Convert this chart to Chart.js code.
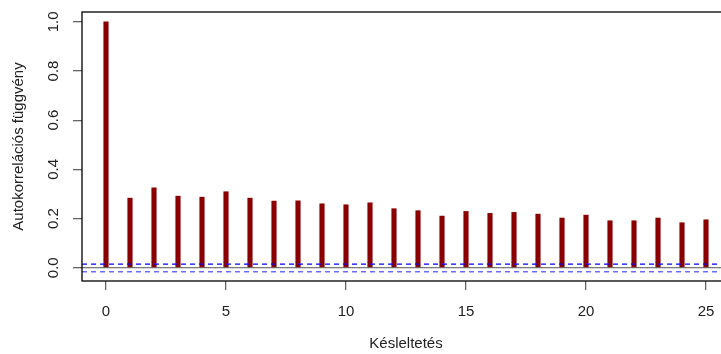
<!DOCTYPE html>
<html>
<head>
<meta charset="utf-8">
<script src="https://cdn.jsdelivr.net/npm/chart.js@4.4.0/dist/chart.umd.min.js"></script>
<style>
  html, body { margin: 0; padding: 0; background: #fff; overflow: hidden; }
  #wrap { width: 731px; height: 354px; position: relative; }
</style>
</head>
<body>
<div id="wrap"><canvas id="acfChart"></canvas></div>
<script>
// --- datos ---
const lags = [0, 1, 2, 3, 4, 5, 6, 7, 8, 9, 10, 11, 12, 13, 14, 15, 16, 17, 18, 19, 20, 21, 22, 23, 24, 25];
const acfValues = [1.0, 0.283, 0.325, 0.291, 0.287, 0.309, 0.283, 0.271, 0.272, 0.260, 0.256, 0.264, 0.240,
                   0.232, 0.210, 0.229, 0.221, 0.225, 0.218, 0.202, 0.214, 0.191, 0.191, 0.202, 0.183, 0.195];
const confUpper = 0.015;
const confLower = -0.016;
const xTickValues = [0, 5, 10, 15, 20, 25];
const yTickValues = [0.0, 0.2, 0.4, 0.6, 0.8, 1.0];
const xRange = [-1, 26];

const font = { family: "'Liberation Sans', Arial, sans-serif", size: 15 };
const textColor = '#222';

// marco del gráfico + etiquetas del eje y giradas (como en R)
const framePlugin = {
  id: 'frame',
  afterDraw(chart) {
    const { ctx, chartArea: a, scales } = chart;
    ctx.save();
    ctx.strokeStyle = '#000';
    ctx.lineWidth = 1.3;
    ctx.strokeRect(a.left, a.top, a.right - a.left, a.bottom - a.top);

    ctx.fillStyle = textColor;
    ctx.font = font.size + 'px ' + font.family;
    ctx.textAlign = 'center';
    ctx.textBaseline = 'middle';
    yTickValues.forEach(v => {
      const y = scales.y.getPixelForValue(v);
      ctx.save();
      ctx.translate(54, y);
      ctx.rotate(-Math.PI / 2);
      ctx.fillText(v.toFixed(1), 0, 0);
      ctx.restore();
    });
    ctx.restore();
  }
};

const lineSet = (y, color, dash, width) => ({
  type: 'line',
  data: [{ x: xRange[0], y: y }, { x: xRange[1], y: y }],
  borderColor: color,
  borderWidth: width,
  borderDash: dash,
  pointRadius: 0,
  fill: false
});

const ctx = document.getElementById('acfChart').getContext('2d');
new Chart(ctx, {
  type: 'bar',
  data: {
    datasets: [
      lineSet(0, '#555', [], 1),
      lineSet(confUpper, '#0000ff', [5, 4], 1.3),
      lineSet(confLower, '#6b6bff', [5, 4], 1.5),
      {
        type: 'bar',
        data: lags.map((l, i) => ({ x: l, y: acfValues[i] })),
        backgroundColor: '#8b0000',
        borderWidth: 0,
        barThickness: 4.5
      }
    ]
  },
  options: {
    animation: false,
    responsive: true,
    maintainAspectRatio: false,
    layout: { padding: { top: 12, right: 1, left: 0, bottom: 0 } },
    plugins: { legend: { display: false }, tooltip: { enabled: false } },
    scales: {
      x: {
        type: 'linear',
        min: xRange[0],
        max: xRange[1],
        offset: false,
        afterBuildTicks: s => { s.ticks = xTickValues.map(v => ({ value: v })); },
        afterFit: s => { s.height = 73; },
        grid: { offset: false, drawOnChartArea: false, drawTicks: true, tickLength: 9, color: '#666', lineWidth: 1.3 },
        border: { display: false },
        ticks: { font: font, color: textColor, padding: 13 },
        title: { display: true, text: 'Késleltetés', font: font, color: textColor, padding: { top: 0, bottom: 1 } }
      },
      y: {
        type: 'linear',
        min: -0.054,
        max: 1.04,
        afterBuildTicks: s => { s.ticks = yTickValues.map(v => ({ value: v })); },
        afterFit: s => { s.width = 82; },
        grid: { drawOnChartArea: false, drawTicks: true, tickLength: 9, color: '#666', lineWidth: 1.3 },
        border: { display: false },
        ticks: { display: false },
        title: { display: true, text: 'Autokorrelációs függvény', font: font, color: textColor, padding: { top: 10, bottom: 0 } }
      }
    }
  },
  plugins: [framePlugin]
});
</script>
</body>
</html>
